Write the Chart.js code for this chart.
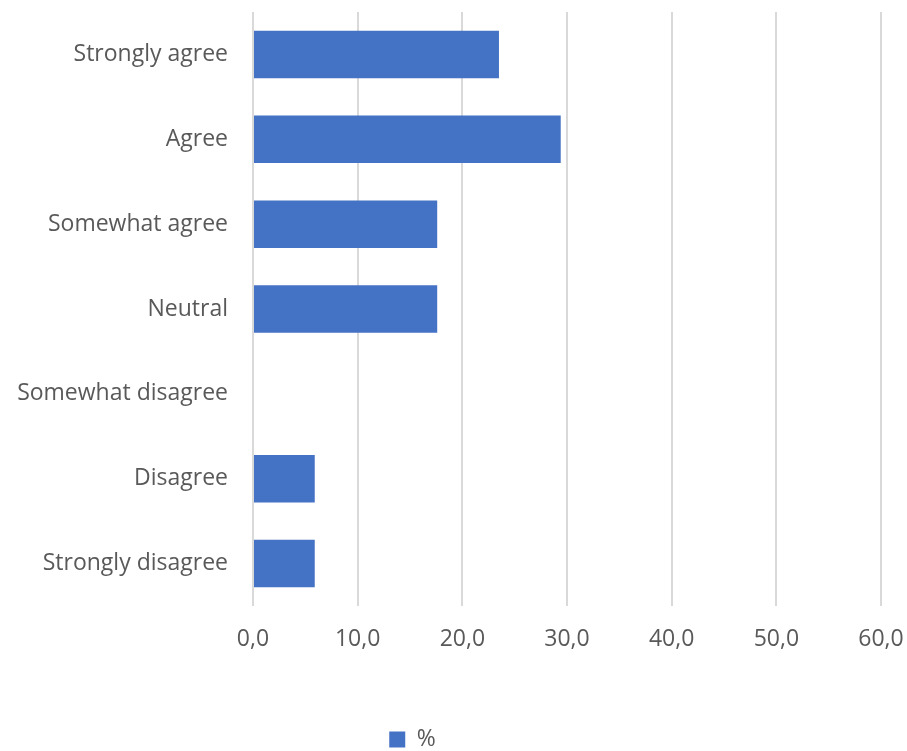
<!DOCTYPE html>
<html>
<head>
<meta charset="utf-8">
<script src="https://cdn.jsdelivr.net/npm/chart.js@4"></script>
<style>
  html, body { margin: 0; padding: 0; background: #fff; }
  #wrap { width: 907px; height: 751px; position: relative; }
</style>
</head>
<body>
<div id="wrap"><canvas id="chart"></canvas></div>
<script>
// answer categories, top to bottom
const categories = ['Strongly agree', 'Agree', 'Somewhat agree', 'Neutral', 'Somewhat disagree', 'Disagree', 'Strongly disagree'];
// share of respondents, %
const percent = [23.5, 29.4, 17.6, 17.6, 0, 5.9, 5.9];
const xTicks = [0, 10, 20, 30, 40, 50, 60];

const font = { family: 'Open Sans', size: 23 };
const textColor = '#595959';

// legend sits a bit left of the canvas centre in the original
const legendShift = {
  id: 'legendShift',
  afterLayout(chart) {
    chart.legend.left = 0;
    chart.legend.right = 825;
  },
};

new Chart(document.getElementById('chart'), {
  type: 'bar',
  data: {
    labels: categories,
    datasets: [{
      label: '%',
      data: percent,
      backgroundColor: '#4472C4',
      barPercentage: 0.56,
      categoryPercentage: 1.0,
    }],
  },
  options: {
    indexAxis: 'y',
    responsive: true,
    maintainAspectRatio: false,
    animation: false,
    layout: { padding: { top: 12, right: 26, left: 0, bottom: -10 } },
    scales: {
      x: {
        min: 0,
        max: 60,
        afterBuildTicks: (axis) => { axis.ticks = xTicks.map((v) => ({ value: v })); },
        afterFit: (axis) => {
          axis.height = 122;
          axis.paddingLeft = 0;
          axis.paddingRight = 0;
        },
        grid: { color: '#d9d9d9', lineWidth: 2, drawTicks: false },
        border: { display: false },
        ticks: {
          padding: 20,
          color: textColor,
          font,
          callback: (v) => v.toFixed(1).replace('.', ','),
        },
      },
      y: {
        afterFit: (axis) => {
          axis.width = 253;
          axis.paddingTop = 0;
          axis.paddingBottom = 0;
        },
        grid: { display: false, drawTicks: false },
        border: { display: false },
        ticks: { padding: 25, color: textColor, font },
      },
    },
    plugins: {
      legend: {
        position: 'bottom',
        labels: { boxWidth: 16, boxHeight: 16, color: textColor, font, padding: 0 },
      },
      tooltip: { enabled: false },
    },
  },
  plugins: [legendShift],
});
</script>
</body>
</html>
